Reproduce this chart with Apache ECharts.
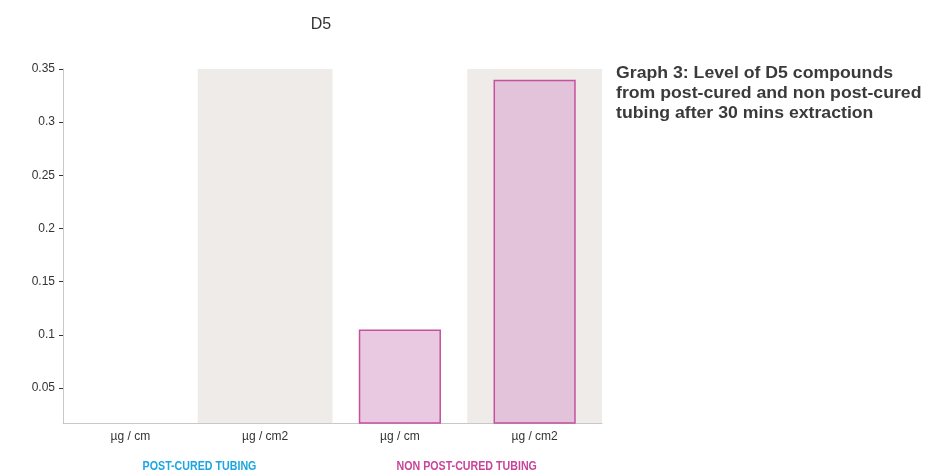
<!DOCTYPE html>
<html>
<head>
<meta charset="utf-8">
<script src="https://cdn.jsdelivr.net/npm/echarts@6/dist/echarts.min.js"></script>
<style>
  html, body { margin: 0; padding: 0; background: #fff; }
  #chart { width: 938px; height: 475px; }
</style>
</head>
<body>
<div id="chart"></div>
<script>
// Units measured per tubing type
const categories = ['µg / cm', 'µg / cm2', 'µg / cm', 'µg / cm2'];
// D5 levels after 30 mins extraction
const d5Values = [0, 0, 0.105, 0.34];
// Y-axis tick labels
const yTicks = [0.05, 0.1, 0.15, 0.2, 0.25, 0.3, 0.35];
const groupLabels = ['POST-CURED TUBING', 'NON POST-CURED TUBING'];
const captionLines = [
  'Graph 3: Level of D5 compounds',
  'from post-cured and non post-cured',
  'tubing after 30 mins extraction'
];

const chart = echarts.init(document.getElementById('chart'));
const baseFont = '"Liberation Sans", Helvetica, Arial, sans-serif';

chart.setOption({
  animation: false,
  title: {
    text: 'D5',
    left: 316,
    top: 12,
    textAlign: 'center',
    textStyle: { fontFamily: baseFont, fontSize: 16, fontWeight: 'normal', color: '#333' }
  },
  grid: { left: 63, right: 336, top: 69, bottom: 52 },
  xAxis: {
    type: 'category',
    data: categories,
    axisLine: { lineStyle: { color: '#c8c8c8', width: 1 } },
    axisTick: { alignWithLabel: true, length: 4, lineStyle: { color: '#333' } },
    axisLabel: { fontFamily: baseFont, fontSize: 12, color: '#333', margin: 8 },
    splitArea: { show: true, areaStyle: { color: ['rgba(0,0,0,0)', '#efebe8'] } }
  },
  yAxis: {
    type: 'value',
    min: 0.017,
    max: 0.35,
    axisLine: { show: true, lineStyle: { color: '#c8c8c8', width: 1 } },
    axisTick: { show: true, length: 4, customValues: yTicks, lineStyle: { color: '#333' } },
    axisLabel: { fontFamily: baseFont, fontSize: 12, color: '#333', margin: 8, customValues: yTicks },
    splitLine: { show: false }
  },
  series: [{
    type: 'bar',
    data: d5Values,
    barWidth: '61%',
    itemStyle: {
      color: 'rgba(222,178,212,0.7)',
      borderColor: '#c4529e',
      borderWidth: 1.5
    }
  }],
  graphic: [
    {
      type: 'text',
      x: 616,
      y: 63,
      scaleX: 1.04,
      style: {
        text: captionLines.join('\n'),
        font: 'bold 17px ' + baseFont,
        lineHeight: 20,
        fill: '#3a3a3a'
      }
    },
    {
      type: 'text',
      x: 199.5,
      y: 466,
      scaleX: 0.79,
      style: {
        text: groupLabels[0],
        font: 'bold 13.5px ' + baseFont,
        fill: '#1ba6e1',
        align: 'center',
        verticalAlign: 'middle'
      }
    },
    {
      type: 'text',
      x: 466.7,
      y: 466,
      scaleX: 0.79,
      style: {
        text: groupLabels[1],
        font: 'bold 13.5px ' + baseFont,
        fill: '#c8449a',
        align: 'center',
        verticalAlign: 'middle'
      }
    }
  ]
});
</script>
</body>
</html>
